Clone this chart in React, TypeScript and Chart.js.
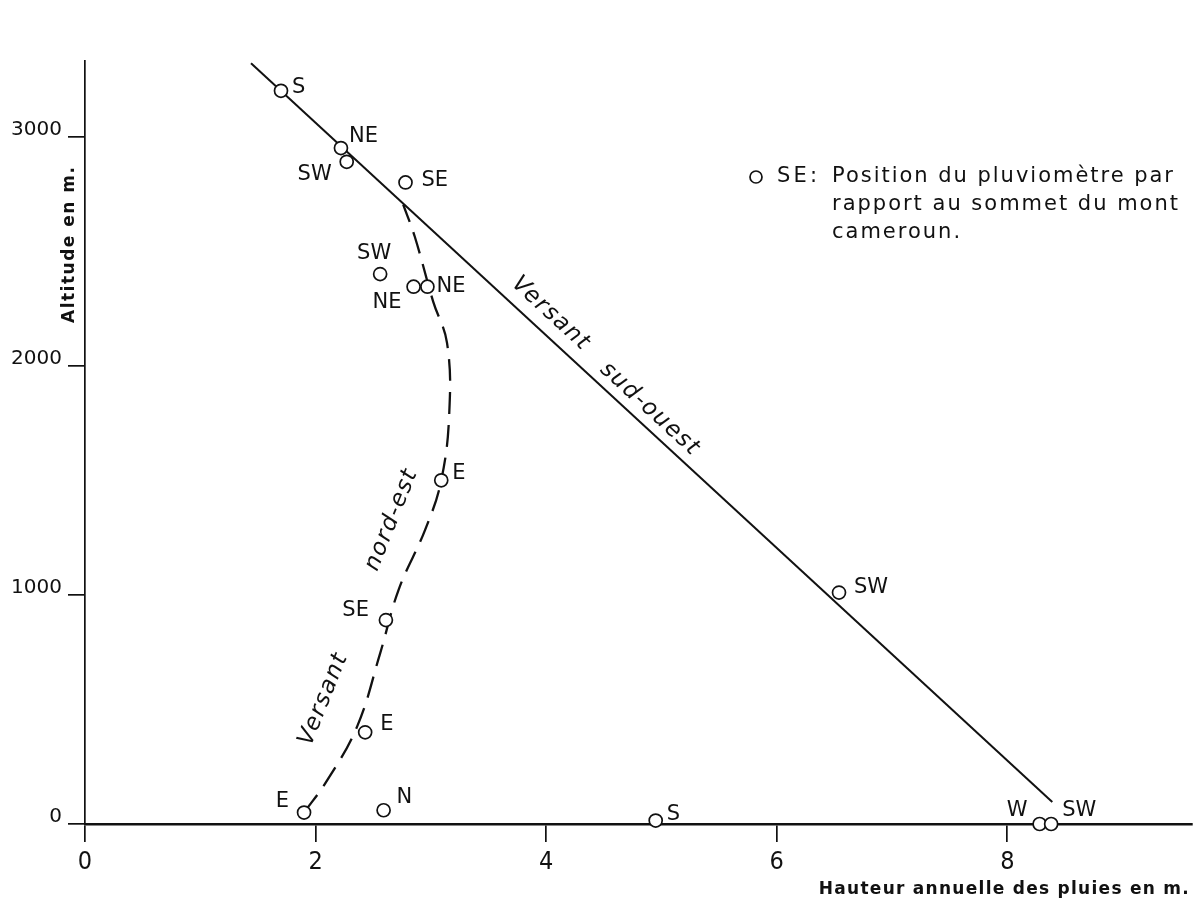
import React, { useEffect, useRef } from "react";
import { Chart, registerables } from "chart.js";

Chart.register(...registerables);

// Rain gauges: annual rainfall (m) vs altitude (m) and aspect relative to the summit
const gaugeRain = [1.7, 2.22, 2.27, 2.78, 2.56, 2.85, 2.97, 3.09, 6.54, 2.61, 2.43, 1.9, 2.59, 4.95, 8.28, 8.38];
const gaugeAltitude = [3200, 2950, 2890, 2800, 2400, 2345, 2345, 1500, 1010, 890, 400, 50, 60, 15, 0, 0];
const gaugeAspect = ["S", "NE", "SW", "SE", "SW", "NE", "NE", "E", "SW", "SE", "E", "E", "N", "S", "W", "SW"];

// South-west slope (straight line)
const southwestRain = [1.44, 8.39];
const southwestAltitude = [3320, 96];

// North-east slope (dashed curve)
const northeastRain = [1.9, 2.1, 2.36, 2.56, 2.72, 2.95, 3.09, 3.16, 3.14, 3.02, 2.86, 2.76];
const northeastAltitude = [50, 190, 425, 745, 1022, 1284, 1500, 1800, 2100, 2280, 2564, 2703];

const xTickValues = [0, 2, 4, 6, 8];
const yTickValues = [0, 1000, 2000, 3000];

const xTitle = "Hauteur annuelle des pluies en m.";
const yTitle = "Altitude en m.";
const noteKey = "SE:";
const noteLines = ["Position du pluviomètre par", "rapport au sommet du mont", "cameroun."];

// label placement for each gauge label: [dx, dy, align] (pixels from marker)
const labelPlacement: [number, number, CanvasTextAlign][] = [
  [11, -3, "left"],
  [8, -12, "left"],
  [-15, 13, "right"],
  [16, -2, "left"],
  [-6, -21, "center"],
  [-12, 16, "right"],
  [9, 0, "left"],
  [11, -7, "left"],
  [15, -5, "left"],
  [-17, -10, "right"],
  [15, -8, "left"],
  [-15, -11, "right"],
  [13, -13, "left"],
  [11, -6, "left"],
  [-12, -13, "right"],
  [11, -13, "left"],
];

const INK = "#111";

function spacingFor(ctx: CanvasRenderingContext2D, text: string, target: number) {
  (ctx as any).letterSpacing = "0px";
  const w = ctx.measureText(text).width;
  return Math.max(0, (target - w) / Math.max(1, text.length - 1));
}

function drawSpaced(ctx: CanvasRenderingContext2D, text: string, x: number, y: number, spacing: number) {
  (ctx as any).letterSpacing = spacing + "px";
  ctx.textAlign = "left";
  ctx.fillText(text, x, y);
  (ctx as any).letterSpacing = "0px";
}

const annotatePlugin = {
  id: "annotate",
  afterDatasetsDraw(chart: any) {
    const { ctx, scales, chartArea } = chart;
    const x = scales.x;
    const y = scales.y;
    ctx.save();
    ctx.fillStyle = INK;
    ctx.strokeStyle = INK;

    // gauge labels
    ctx.font = "21px 'DejaVu Sans'";
    ctx.textBaseline = "middle";
    gaugeAspect.forEach((lab, i) => {
      const px = x.getPixelForValue(gaugeRain[i]);
      const py = y.getPixelForValue(gaugeAltitude[i]);
      const [dx, dy, align] = labelPlacement[i];
      ctx.textAlign = align;
      ctx.fillText(lab, px + dx, py + dy);
    });

    // slope names
    const x0 = x.getPixelForValue(southwestRain[0]);
    const y0 = y.getPixelForValue(southwestAltitude[0]);
    const x1 = x.getPixelForValue(southwestRain[1]);
    const y1 = y.getPixelForValue(southwestAltitude[1]);
    const swAngle = Math.atan2(y1 - y0, x1 - x0);
    ctx.font = "italic 23px 'DejaVu Sans'";
    const drawRot = (t: string, cx: number, cy: number, ang: number) => {
      ctx.save();
      ctx.translate(cx, cy);
      ctx.rotate(ang);
      (ctx as any).letterSpacing = "1.5px";
      ctx.textAlign = "center";
      ctx.fillText(t, 0, 0);
      (ctx as any).letterSpacing = "0px";
      ctx.restore();
    };
    drawRot("Versant", x.getPixelForValue(4.04), y.getPixelForValue(2227), swAngle);
    drawRot("sud-ouest", x.getPixelForValue(4.9), y.getPixelForValue(1810), swAngle);
    const neAngle = (-68 * Math.PI) / 180;
    drawRot("Versant", x.getPixelForValue(2.07), y.getPixelForValue(545), neAngle);
    drawRot("nord-est", x.getPixelForValue(2.66), y.getPixelForValue(1328), neAngle);

    // axis titles
    ctx.font = "bold 17px 'DejaVu Sans'";
    ctx.textBaseline = "middle";
    const xs = spacingFor(ctx, xTitle, 370);
    drawSpaced(ctx, xTitle, chartArea.right - 373, chartArea.bottom + 66, xs);
    ctx.save();
    ctx.translate(chartArea.left - 15, chartArea.top + 184);
    ctx.rotate(-Math.PI / 2);
    const ys = spacingFor(ctx, yTitle, 156);
    drawSpaced(ctx, yTitle, -78, 0, ys);
    ctx.restore();

    // note
    const nx = chartArea.left + 671;
    const ny = chartArea.top + 116;
    ctx.lineWidth = 1.7;
    ctx.beginPath();
    ctx.arc(nx, ny, 6, 0, Math.PI * 2);
    ctx.stroke();
    ctx.font = "21px 'DejaVu Sans'";
    ctx.textBaseline = "middle";
    drawSpaced(ctx, noteKey, nx + 21, ny, spacingFor(ctx, noteKey, 40));
    const s1 = spacingFor(ctx, noteLines[0], 341);
    const s2 = spacingFor(ctx, noteLines[1], 346);
    drawSpaced(ctx, noteLines[0], nx + 76, ny, s1);
    drawSpaced(ctx, noteLines[1], nx + 76, ny + 28, s2);
    drawSpaced(ctx, noteLines[2], nx + 76, ny + 56, s2);
    ctx.restore();
  },
};

export default function App() {
  const canvasRef = useRef<HTMLCanvasElement | null>(null);

  useEffect(() => {
    document.body.style.margin = "0";
    const canvas = canvasRef.current;
    if (!canvas) return;

    const gaugePoints = gaugeRain.map((v, i) => ({ x: v, y: gaugeAltitude[i] }));
    const swPoints = southwestRain.map((v, i) => ({ x: v, y: southwestAltitude[i] }));
    const nePoints = northeastRain.map((v, i) => ({ x: v, y: northeastAltitude[i] }));

    const chart = new Chart(canvas, {
      type: "scatter",
      data: {
        datasets: [
          {
            label: "Pluviomètres",
            data: gaugePoints,
            pointStyle: "circle",
            pointRadius: 6.5,
            pointBorderWidth: 1.7,
            pointBackgroundColor: "#fff",
            pointBorderColor: INK,
            order: 0,
            clip: false,
          } as any,
          {
            label: "Versant sud-ouest",
            data: swPoints,
            showLine: true,
            borderColor: INK,
            borderWidth: 2,
            pointRadius: 0,
            order: 1,
            clip: false,
          } as any,
          {
            label: "Versant nord-est",
            data: nePoints,
            showLine: true,
            borderColor: INK,
            borderWidth: 2.3,
            borderDash: [22, 11],
            tension: 0.4,
            pointRadius: 0,
            order: 2,
            clip: false,
          } as any,
        ],
      },
      options: {
        animation: false,
        responsive: false,
        devicePixelRatio: 1,
        layout: { padding: { top: 61, right: 2, left: 0, bottom: 0 } },
        plugins: {
          legend: { display: false },
          tooltip: { enabled: false },
        },
        scales: {
          x: {
            type: "linear",
            min: 0,
            max: 9.6,
            afterBuildTicks: (s: any) => {
              s.ticks = xTickValues.map((v) => ({ value: v }));
            },
            afterFit: (s: any) => {
              s.height = 79;
            },
            grid: { drawOnChartArea: false, drawTicks: true, tickLength: 18, color: INK, lineWidth: 1.7 },
            border: { display: true, color: INK, width: 2.6 },
            ticks: {
              color: INK,
              font: { family: "'DejaVu Sans Condensed', 'DejaVu Sans'", size: 25 },
              padding: 5,
              maxRotation: 0,
              autoSkip: false,
              callback: (v: any) => String(v),
            },
          },
          y: {
            type: "linear",
            min: 0,
            max: 3330,
            afterBuildTicks: (s: any) => {
              s.ticks = yTickValues.map((v) => ({ value: v }));
            },
            afterFit: (s: any) => {
              s.width = 85;
            },
            grid: { drawOnChartArea: false, drawTicks: true, tickLength: 17, color: INK, lineWidth: 1.7 },
            border: { display: true, color: INK, width: 1.7 },
            ticks: {
              color: INK,
              font: { family: "'DejaVu Sans'", size: 20 },
              padding: 6,
              labelOffset: -7,
              autoSkip: false,
              callback: (v: any) => String(v),
            },
          },
        },
      },
      plugins: [annotatePlugin],
    } as any);

    return () => {
      chart.destroy();
    };
  }, []);

  return (
    <div style={{ position: "absolute", left: 0, top: 0, width: 1200, height: 903, background: "#fff" }}>
      <canvas ref={canvasRef} width={1200} height={903} />
    </div>
  );
}
